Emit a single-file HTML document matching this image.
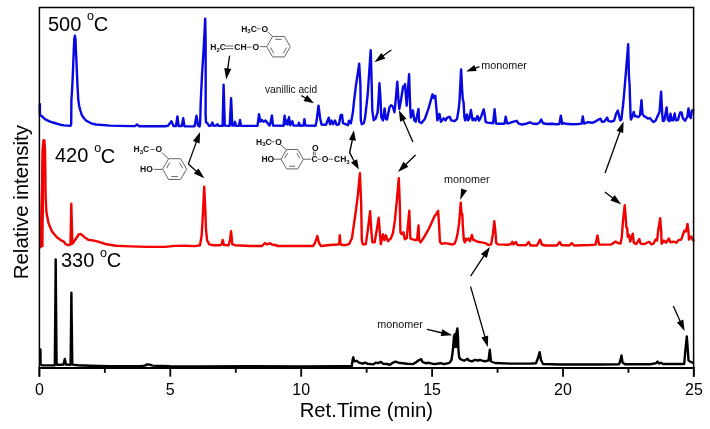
<!DOCTYPE html>
<html><head><meta charset="utf-8"><style>
html,body{margin:0;padding:0;background:#fff;}
svg{display:block;will-change:transform;}
text{font-family:"Liberation Sans",sans-serif;}
</style></head><body>
<svg width="710" height="429" viewBox="0 0 710 429">
<rect width="710" height="429" fill="#fff"/>
<g fill="none" stroke-linejoin="round" stroke-linecap="round">
<polyline points="40.4,349.5 40.6,364.5 42,365.3 50,365.4 54.8,365.2 55.4,300 55.7,259.5 56,300 56.6,364.7 60,364.8 63.5,364.6 64.8,359 66,364.6 70.6,364.8 71.1,320 71.4,292.8 71.7,320 72.3,364.6 78,365.3 90,365.8 110,366.2 140,366.3 145,365.6 147,364.4 150,364.7 152.5,365.6 170,366.2 200,366.5 250,366.3 300,366.4 340,366.3 351.8,366.1 352.6,360 353.3,357.3 354,361 355.6,361.2 356.6,360.8 359.1,362.6 362.6,363.7 364.7,362.6 367.5,363.7 373.2,364.4 376,362.6 378,363.2 380.9,361.9 383,363.7 387.3,364 390,364.9 392.5,362.8 395.5,361.6 398.5,362.7 406.9,363.7 412.8,364.1 415.4,362.8 418.7,360.3 421.3,359.2 422.5,362 425.5,363.2 428.9,362.8 434,364.1 440.7,363.2 444,364.2 449.5,362.8 451.5,360 452.5,353 453.3,346 453.9,336.8 454.6,334.5 455.2,335.7 456.3,333.4 457.4,328.5 458,336.8 458.3,348 459.1,356.9 460.2,359.1 461.9,359.7 464.1,360.8 467.5,358.8 468.6,360.3 472,361.4 475,359.8 478,360.5 480,359.8 483,361 486,361.2 488.5,360.5 489.8,349.8 491,361.5 495,363 510,363.6 530,363.6 536,363.2 538,358 539.6,352.2 541,360 543,364 560,364.5 600,364.5 619,364.3 620.5,360 621.5,355.5 622.5,362.5 625,364.2 650,364.2 656,363.2 657.5,361.6 659,363.5 661,362.8 663,364 684.2,364 685.4,350 686.8,336.4 687.8,350 688.5,360.4 690,361.5 693,362.9" stroke="#000" stroke-width="2.4"/>
<polyline points="40.6,247.2 41.3,245 41.5,230 42,200 42.3,170 42.8,147 43.5,140.2 44.4,140.5 45,150 45.3,170 45.5,190 45.8,200 46.4,212 48.5,223.3 52,231.5 56.8,237.3 61,240.3 63.9,241.7 65.3,243.8 68,245.2 70.5,244.5 71.3,203.8 72.3,243.8 75.8,239 78.6,234.5 80.7,234 84.2,236.9 88.3,239.7 94,240.6 98,241.7 106.7,244.3 116,245.7 130,246.4 147.5,246.9 165,246.9 175,245.9 185,245.8 195,246.1 200,245.2 201.7,235.1 202.6,220 204.2,186.8 205.4,211.6 205.9,228.4 207.1,240.2 209.3,244.4 213.5,245.2 220.2,245.2 221.5,244.5 222.7,240 224,245 228.6,245.2 230,240 231.1,231.3 232.3,244.4 235,245.2 240,245.5 250,246 262,246 265,243 267,244.5 270,243.2 272,244.5 275,245 278,246 300,246 313,246 315,243 317.3,236 319,243 321,246 330,245 337,244.5 339.2,244 339.8,235.3 340.5,244.5 345,245.2 349,244.2 351.9,238.3 353.9,224.4 355.9,210.5 357.9,194.7 359.9,173.1 361.2,204.6 361.8,240.2 362.8,244.2 365.8,244.2 367.8,230.3 370.1,211.3 371.3,230.3 372.3,242.2 374.7,242.2 376.7,230.3 378.7,217.7 380,234.3 380.8,244.2 383,234.3 384.4,240.2 385.9,235.3 387.9,241.2 390.9,238.3 392.9,233.3 394.9,220.4 396.8,200.6 398.8,178.1 399.8,204.6 400.4,232.3 401.8,234.3 403.4,232.3 404.8,239.3 406.7,238.3 409.3,210.8 410.3,238.3 412.7,239.3 415.6,240 417.1,239.7 418.5,225.5 419.2,240.3 420.6,242.4 423.4,238.3 426.2,233.4 429,228.5 431.8,222.2 434.6,215.9 436,214.5 438.1,210.8 439.1,225 439.9,241.7 441.6,243.8 445.8,243.1 448.6,243.8 452.8,244.5 454.6,243.7 456.5,238.6 457.8,232.2 459.1,223.2 460.7,202.6 461.6,214.2 462.3,214.2 462.9,227.1 463.8,239.9 464.8,242.4 466.1,238.6 467.1,239.9 468.5,238.5 470,241.2 471.9,235 473.2,239.9 475.1,240.5 477.6,241.8 481.5,242.4 485.3,243.1 488.5,245 491.1,244.4 493,233.5 494.3,221.2 495.6,233.5 496.2,243.1 498.2,244.4 508,244.8 511,244 512.3,241.8 513.5,244.5 515.8,242 517.5,245 526,245.3 528.7,242 530.5,245.5 537,245.5 538.5,242.5 540.1,239.7 541.8,244.5 545,245.5 557,245.5 559.6,242 561.5,245 569,245.5 571.8,243.2 574,245.5 590,245 595.5,244.6 597.5,235.5 599,244.6 610,244.6 612,244.1 615.6,241.6 617.5,242.8 620.5,243.5 621.7,238 622.9,222.2 624.7,205.3 625.6,216.2 626.3,227.1 627.2,228.3 627.8,236.8 629,235 630.2,241.6 631.4,238 632.8,233.7 633.8,242.8 636.2,244.1 639.3,239 640.5,243.5 643.5,244.1 645,243.8 649.2,241.7 651.3,244.3 653.4,243.8 655.5,239.6 657.1,240.6 658.1,231.2 660.2,218.3 661.2,231.2 661.6,243.8 663.9,240.6 666,242.7 668.9,238.5 670.2,242.2 673.3,241.7 676.4,242.7 678.5,240.1 681.2,239.6 682.7,235.4 684.3,230.8 685.9,231.5 687.5,224 688.5,232.3 689,239.6 691.1,236.4 692.7,239.6 693.3,240.6" stroke="#f20000" stroke-width="2.4"/>
<polygon points="40.1,247 40.3,215 40.8,195 41.3,170 41.8,150 42.8,141 44.6,141 45.2,150 44.6,175 44.1,200 43.7,230 43.6,247" fill="#f20000" stroke="none"/>
<polyline points="39.9,104.3 39.9,115 41.6,116 45.3,119.4 50,121.7 54.6,123 60.2,124.7 64,125.4 70.5,125.9 71.2,124 71.4,100 71.9,93 72.6,80 73.2,65 73.8,50 74.3,39 74.9,35.6 75.5,39 75.9,50 76.4,60 76.9,72 77.5,86 78.3,100 79.2,106 80.2,110 81.8,115 83.8,118 86,120.5 88.6,122 92,123.6 96,124.5 110,125.6 130,126.1 135,126.1 137,124.4 139,126.2 165,126.3 168,125.8 171.4,121.2 173.5,126 176,126 177.4,116.5 178.6,126 181.8,126 183.2,118.3 184.5,126.2 194.5,126.4 196.5,115.8 198,125.5 199.5,126.5 200.1,124 200.8,100 202,75 203.6,50 205.2,18.8 205.6,40 205.7,80 205.6,115 206,122.5 207.3,123 209,125.8 211,125.5 212.4,122.6 213.6,125.8 216,125.6 217.5,124.2 218.5,125.8 222.6,125.9 223.6,84.8 224.8,125.6 229.7,125.9 231.1,98.2 232.3,125.6 234,125.5 235,121.8 236,125.7 239,125.9 240,119.9 241,125.7 257.5,125.9 259,114.2 260.3,121.5 262,120 263.5,121.8 265.5,120.5 267,122.5 269.5,125.6 270.9,121 271.9,115.4 273,125.5 283.5,125.8 284.6,115.6 285.6,124 286.6,120.5 287.6,124.5 289,117.3 290.2,125.2 292.4,121.2 293.4,125.6 298,125.6 298.9,122.8 300,125.7 303.4,125.6 304.4,119.2 305.4,125.6 315.5,125.7 316.5,121.5 318.5,105.6 320.2,118.5 321.5,124.5 326,124.8 328.7,117.7 330,124.3 331.5,120.5 333,124.3 335,120.5 336.5,124.8 339,124.3 340.6,115.2 342,114.8 343,123.2 348,125.2 348.9,120.7 350.9,123.2 352.9,112.3 353.9,102.4 355.8,86.6 359.2,63.6 360.4,84.6 360.8,120.2 361.8,124.2 363.8,123.2 364.8,119.3 365.7,112.3 367.7,94.5 370.7,50.2 371.7,84.6 372.3,110.3 373.7,120.2 375.6,118.6 377.6,112.3 378.5,100 379.4,83.2 380.3,95 381.3,117.1 383,120.4 384.6,108.5 385.8,118.8 387,119.6 389.5,107.3 391.1,105.3 392.8,106.5 394.4,112.2 395.2,105.7 397.3,81.6 398.5,100.8 399.3,109 400.9,100.8 403.1,86.5 404.2,88 405,84.1 406.7,105.7 409.1,74.3 410.1,105 410.8,117.6 412.9,110.4 414.3,120.3 415.7,121.7 418.5,109 419.2,121.7 421.3,123.1 424.8,119 428.3,109.2 431.1,99.4 432.5,94.3 433.9,98 435.3,95.7 436.7,112 437.4,120.3 439.5,113.9 440.9,121.7 443.7,118.3 445.6,120.4 447.2,117.6 449.7,116.8 451.3,120.4 454.6,121.2 457.1,118.8 458.7,109 459.5,100.8 461.1,69.4 462.3,92.7 462.8,99.2 463.6,102.4 464.4,117.1 465.2,120.4 466.9,114.5 468,120.4 469.5,118 470.9,110 472.6,120.4 474,118.5 475.5,120.4 477.5,116 479,120.5 480,119 481.1,116.7 483.7,109.3 484.9,115.9 485.6,121.9 487.5,122.6 491.2,123 493.1,123.3 494.6,109.3 496,123.3 497.2,123.7 503.9,123.7 504.6,123.5 505.7,116.7 507.2,123.4 508.4,123.4 512.8,121.9 516.6,120.8 518.8,123.7 521.8,124.5 526.3,123.7 530,122.3 533,123.8 537,124 539.5,122.5 541.2,119.5 543,123.2 547,124 552,123.8 556,124.2 559.4,124 560.8,115.6 562.3,124 564,123.2 566,123.8 572,124.2 578,124 581.6,123.6 582.8,116.5 584,123.6 588,122.2 592.9,122.7 596.2,121.1 598.6,119.5 600.6,118.8 601.9,121.9 604.3,121.5 607.2,117.6 608.4,121.1 611.7,121.5 614.1,120.7 616.1,113.8 617.8,110.5 619,115.4 620.2,120.3 621.4,119.5 622.3,111.3 623.3,103 624.6,88 626.5,65 628.2,44.2 628.9,75 629.6,85 629.9,95 630.3,107 630.6,117 631,119.5 632.2,117 633.7,111.9 634.9,116.2 636,116.1 638.5,117.1 640,115.1 641.5,100.2 642.5,114.1 644,116.1 646,117.1 648,118.6 650,118.1 651.5,120.1 653.6,122.1 655.6,120.6 657.1,117.1 658.1,115.1 659.5,112 661.1,91.7 662.3,115.1 662.9,121.1 664.3,120.4 666.6,107.4 667.8,119.6 669.3,121.2 670.5,113.8 671.6,120.4 673,120.4 674.7,113.5 675.8,120.4 678,119.8 680.1,112.5 681.6,112.5 682.8,118.1 685.1,120.8 687.4,116.5 688.5,108.5 689.7,116.5 690.8,118.1 692,110.5 693.3,110" stroke="#0808e2" stroke-width="2.4"/>
</g>
<path d="M39.4,376.7 V7.4 H693.6 V376.7" fill="none" stroke="#000" stroke-width="1.5"/><line x1="38.6" y1="368" x2="694.4" y2="368" stroke="#000" stroke-width="1.9"/>
<line x1="39.40" y1="367" x2="39.40" y2="376.7" stroke="#000" stroke-width="1.8"/><text x="39.40" y="395.4" text-anchor="middle" font-size="16">0</text><line x1="104.85" y1="367" x2="104.85" y2="372.8" stroke="#000" stroke-width="1.8"/><line x1="170.30" y1="367" x2="170.30" y2="376.7" stroke="#000" stroke-width="1.8"/><text x="170.30" y="395.4" text-anchor="middle" font-size="16">5</text><line x1="235.75" y1="367" x2="235.75" y2="372.8" stroke="#000" stroke-width="1.8"/><line x1="301.20" y1="367" x2="301.20" y2="376.7" stroke="#000" stroke-width="1.8"/><text x="301.20" y="395.4" text-anchor="middle" font-size="16">10</text><line x1="366.65" y1="367" x2="366.65" y2="372.8" stroke="#000" stroke-width="1.8"/><line x1="432.10" y1="367" x2="432.10" y2="376.7" stroke="#000" stroke-width="1.8"/><text x="432.10" y="395.4" text-anchor="middle" font-size="16">15</text><line x1="497.55" y1="367" x2="497.55" y2="372.8" stroke="#000" stroke-width="1.8"/><line x1="563.00" y1="367" x2="563.00" y2="376.7" stroke="#000" stroke-width="1.8"/><text x="563.00" y="395.4" text-anchor="middle" font-size="16">20</text><line x1="628.45" y1="367" x2="628.45" y2="372.8" stroke="#000" stroke-width="1.8"/><line x1="693.90" y1="367" x2="693.90" y2="376.7" stroke="#000" stroke-width="1.8"/><text x="693.90" y="395.4" text-anchor="middle" font-size="16">25</text>
<text x="48" y="30.6" font-size="20">500</text><text x="87" y="20" font-size="12.5">o</text><text x="93.8" y="30.8" font-size="20">C</text>
<text x="55" y="162.4" font-size="20">420</text><text x="94.3" y="152" font-size="12.5">o</text><text x="100.8" y="162.6" font-size="20">C</text>
<text x="61" y="267" font-size="20">330</text><text x="100.1" y="256.6" font-size="12.5">o</text><text x="106.7" y="267.2" font-size="20">C</text>
<text x="0" y="0" font-size="20.4" transform="translate(28.0,279.2) rotate(-90)">Relative intensity</text>
<text x="299.7" y="416.7" font-size="20.3">Ret.Time (min)</text>
<text x="265" y="92.6" font-size="10.2" fill="#111">vanillic acid</text>
<text x="481.3" y="68.9" font-size="10.8" fill="#111">monomer</text>
<text x="444" y="183.4" font-size="10.8" fill="#111">monomer</text>
<text x="377.2" y="327.6" font-size="10.8" fill="#111">monomer</text>
<line x1="229.6" y1="55.7" x2="227.6" y2="69.6" stroke="#000" stroke-width="1.3"/><polygon points="226.2,79.5 224.3,68.1 231.2,69.1" fill="#000"/><line x1="301.4" y1="95.6" x2="306.2" y2="98.5" stroke="#000" stroke-width="1.3"/><polygon points="313.9,103.2 303.5,101.0 307.2,95.0" fill="#000"/><line x1="391.3" y1="50.0" x2="382.5" y2="56.3" stroke="#000" stroke-width="1.3"/><polygon points="374.4,62.2 381.3,52.9 385.4,58.6" fill="#000"/><line x1="412.9" y1="141.9" x2="402.9" y2="119.3" stroke="#000" stroke-width="1.3"/><polygon points="398.9,110.2 406.5,118.8 400.1,121.7" fill="#000"/><line x1="415.6" y1="155.0" x2="405.2" y2="165.0" stroke="#000" stroke-width="1.3"/><polygon points="398.0,171.9 403.5,161.8 408.4,166.8" fill="#000"/><line x1="479.4" y1="66.6" x2="474.6" y2="68.4" stroke="#000" stroke-width="1.3"/><polygon points="466.2,71.5 474.4,65.0 476.7,71.1" fill="#000"/><line x1="188.3" y1="164.1" x2="196.6" y2="141.4" stroke="#000" stroke-width="1.3"/><polygon points="200.1,132.0 199.6,143.5 193.0,141.1" fill="#000"/><line x1="188.3" y1="164.1" x2="196.9" y2="171.7" stroke="#000" stroke-width="1.3"/><polygon points="204.4,178.3 193.8,173.6 198.5,168.4" fill="#000"/><line x1="604.9" y1="192.0" x2="613.3" y2="198.4" stroke="#000" stroke-width="1.3"/><polygon points="621.3,204.5 610.4,200.6 614.7,195.0" fill="#000"/><line x1="605.1" y1="173.0" x2="620.2" y2="131.0" stroke="#000" stroke-width="1.3"/><polygon points="623.6,121.6 623.2,133.1 616.6,130.8" fill="#000"/><line x1="470.6" y1="276.1" x2="484.4" y2="255.2" stroke="#000" stroke-width="1.3"/><polygon points="489.9,246.9 486.8,258.0 480.9,254.1" fill="#000"/><line x1="470.6" y1="286.6" x2="485.1" y2="337.4" stroke="#000" stroke-width="1.3"/><polygon points="487.8,347.0 481.4,337.4 488.2,335.5" fill="#000"/><line x1="427.0" y1="329.4" x2="442.5" y2="333.0" stroke="#000" stroke-width="1.3"/><polygon points="452.2,335.2 440.7,336.1 442.3,329.3" fill="#000"/><line x1="673.3" y1="305.9" x2="680.5" y2="321.9" stroke="#000" stroke-width="1.3"/><polygon points="684.6,331.0 676.9,322.4 683.3,319.5" fill="#000"/>
<polyline points="352.3,140 349.6,152.6 353,159" fill="none" stroke="#000" stroke-width="1.4"/><polygon points="353.9,130.3 355.9,140.7 349.0,139.7" fill="#000"/><line x1="353.0" y1="159.0" x2="354.5" y2="161.7" stroke="#000" stroke-width="1.3"/><polygon points="358.9,169.6 351.0,162.6 357.1,159.2" fill="#000"/>
<polygon points="460.1,199.9 461.2,188.4 467.1,190.5" fill="#000"/>
<polygon points="453.3,348 453.8,334.5 455.8,333 457.2,329.5 458.2,336 458.1,348" fill="#000"/>
<polygon points="290.3,46.7 284.4,56.9191 272.6,56.9191 266.7,46.7 272.6,36.4809 284.4,36.4809" fill="none" stroke="#666" stroke-width="1"/><line x1="286.5" y1="47.6" x2="283.3" y2="53.1" stroke="#666" stroke-width="1"/><line x1="273.7" y1="53.1" x2="270.5" y2="47.6" stroke="#666" stroke-width="1"/><line x1="275.3" y1="39.3" x2="281.7" y2="39.3" stroke="#666" stroke-width="1"/><line x1="267.6" y1="31.9" x2="272.6" y2="36.3" stroke="#666" stroke-width="1"/><line x1="259.9" y1="46.7" x2="266.7" y2="46.7" stroke="#666" stroke-width="1"/><text x="241.2" y="31.6" font-size="8.5" font-weight="bold" fill="#111">H<tspan font-size="6" dy="1.5">3</tspan><tspan dy="-1.5">C</tspan></text><line x1="256.5" y1="28.8" x2="260.5" y2="28.8" stroke="#666" stroke-width="1"/><text x="261.5" y="31.6" font-size="8.5" font-weight="bold" fill="#111">O</text><text x="210.3" y="50.2" font-size="8.5" font-weight="bold" fill="#111">H<tspan font-size="6" dy="1.5">2</tspan><tspan dy="-1.5">C</tspan></text><line x1="225.5" y1="46" x2="233.5" y2="46" stroke="#666" stroke-width="1"/><line x1="225.5" y1="48.6" x2="233.5" y2="48.6" stroke="#666" stroke-width="1"/><text x="234.3" y="50.2" font-size="8.5" font-weight="bold" fill="#111">CH</text><line x1="246.5" y1="47.2" x2="251.5" y2="47.2" stroke="#666" stroke-width="1"/><text x="252.5" y="50.2" font-size="8.5" font-weight="bold" fill="#111">O</text><polygon points="186.6,169.1 180.6,179.492 168.6,179.492 162.6,169.1 168.6,158.708 180.6,158.708" fill="none" stroke="#666" stroke-width="1"/><line x1="177.8" y1="176.6" x2="171.4" y2="176.6" stroke="#666" stroke-width="1"/><line x1="166.5" y1="168.2" x2="169.7" y2="162.6" stroke="#666" stroke-width="1"/><line x1="179.5" y1="162.6" x2="182.7" y2="168.2" stroke="#666" stroke-width="1"/><line x1="161.7" y1="152.5" x2="168.2" y2="158.4" stroke="#666" stroke-width="1"/><line x1="153.5" y1="169.4" x2="162.5" y2="169.4" stroke="#666" stroke-width="1"/><text x="133.5" y="152" font-size="8.5" font-weight="bold" fill="#111">H<tspan font-size="6" dy="1.5">3</tspan><tspan dy="-1.5">C</tspan></text><line x1="150.5" y1="149.5" x2="154.5" y2="149.5" stroke="#666" stroke-width="1"/><text x="155.6" y="152" font-size="8.5" font-weight="bold" fill="#111">O</text><text x="140" y="172.3" font-size="8.5" font-weight="bold" fill="#111">HO</text><polygon points="303.4,159.2 297.8,168.899 286.6,168.899 281,159.2 286.6,149.501 297.8,149.501" fill="none" stroke="#666" stroke-width="1"/><line x1="295.2" y1="166.2" x2="289.2" y2="166.2" stroke="#666" stroke-width="1"/><line x1="284.6" y1="158.3" x2="287.7" y2="153.1" stroke="#666" stroke-width="1"/><line x1="296.7" y1="153.1" x2="299.8" y2="158.3" stroke="#666" stroke-width="1"/><line x1="280.2" y1="144.5" x2="286.5" y2="149.7" stroke="#666" stroke-width="1"/><line x1="272.5" y1="159.2" x2="281" y2="159.2" stroke="#666" stroke-width="1"/><line x1="303.4" y1="159.2" x2="311.2" y2="159.2" stroke="#666" stroke-width="1"/><text x="256" y="144.5" font-size="8.5" font-weight="bold" fill="#111">H<tspan font-size="6" dy="1.5">3</tspan><tspan dy="-1.5">C</tspan></text><line x1="270.5" y1="141.8" x2="274.5" y2="141.8" stroke="#666" stroke-width="1"/><text x="275.3" y="144.5" font-size="8.5" font-weight="bold" fill="#111">O</text><text x="261.4" y="162.3" font-size="8.5" font-weight="bold" fill="#111">HO</text><text x="311.6" y="162.3" font-size="8.5" font-weight="bold" fill="#111">C</text><text x="312" y="150.8" font-size="8.5" font-weight="bold" fill="#111">O</text><line x1="313.4" y1="151.5" x2="313.4" y2="155.5" stroke="#666" stroke-width="1"/><line x1="315.2" y1="151.5" x2="315.2" y2="155.5" stroke="#666" stroke-width="1"/><line x1="317.3" y1="159.2" x2="321" y2="159.2" stroke="#666" stroke-width="1"/><text x="321.8" y="162.3" font-size="8.5" font-weight="bold" fill="#111">O</text><line x1="328.5" y1="159.2" x2="333" y2="159.2" stroke="#666" stroke-width="1"/><text x="334" y="162.3" font-size="8.5" font-weight="bold" fill="#111">CH<tspan font-size="6" dy="1.5">3</tspan></text>
</svg>
</body></html>
